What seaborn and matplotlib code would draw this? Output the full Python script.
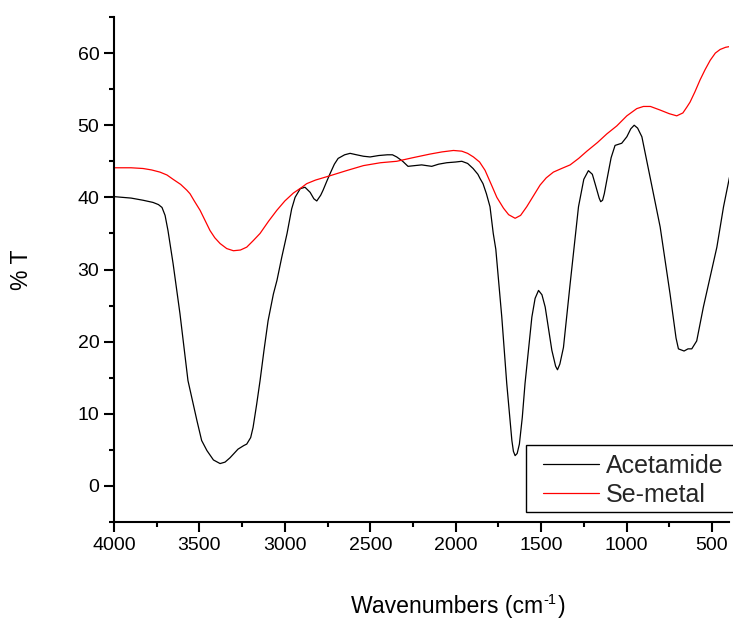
import numpy as np
import pandas as pd
import matplotlib
matplotlib.use("Agg")
import matplotlib.pyplot as plt
from matplotlib.patches import Rectangle
from matplotlib.ticker import MultipleLocator
import seaborn as sns

# FT-IR transmittance spectra (% T vs wavenumber, cm^-1)
acetamide_wn = [4000, 3900, 3830, 3772, 3740, 3719, 3701, 3684, 3654, 3614, 3567, 3514, 3487,
                3456, 3418, 3379, 3350, 3321, 3274, 3240, 3223, 3200, 3186, 3165, 3145, 3122,
                3098, 3067, 3046, 3018, 2987, 2960, 2940, 2910, 2882, 2852, 2830, 2813, 2790,
                2776, 2755, 2735, 2710, 2688, 2650, 2618, 2580, 2540, 2501, 2450, 2400, 2370,
                2345, 2310, 2279, 2240, 2199, 2170, 2140, 2100, 2052, 2000, 1964, 1930, 1898,
                1870, 1857, 1840, 1820, 1799, 1780, 1765, 1730, 1701, 1671, 1662, 1652, 1640,
                1627, 1610, 1594, 1554, 1535, 1515, 1495, 1476, 1437, 1415, 1404, 1390, 1369,
                1330, 1281, 1250, 1223, 1200, 1184, 1160, 1151, 1140, 1130, 1115, 1090, 1067,
                1028, 998, 975, 955, 935, 910, 862, 803, 745, 710, 696, 663, 640, 618, 589,
                550, 511, 471, 432, 397]
acetamide_t = [40.1, 39.9, 39.6, 39.3, 39.0, 38.6, 37.5, 35.4, 30.8, 23.9, 14.6, 9.0, 6.3,
               4.9, 3.6, 3.1, 3.3, 3.9, 5.1, 5.6, 5.8, 6.7, 8.1, 11.3, 14.6, 18.8,
               22.9, 26.6, 28.5, 31.7, 35.0, 38.4, 40.0, 41.2, 41.4, 40.7, 39.8, 39.5, 40.3,
               41.0, 42.2, 43.3, 44.6, 45.4, 45.9, 46.1, 45.9, 45.7, 45.6, 45.8, 45.9, 45.9,
               45.6, 45.0, 44.3, 44.4, 44.5, 44.4, 44.3, 44.6, 44.8, 44.9, 45.0, 44.7, 44.0,
               43.2, 42.6, 41.9, 40.5, 38.7, 35.0, 32.8, 23.4, 14.2, 6.3, 4.8, 4.2, 4.5,
               5.8, 9.5, 14.2, 23.4, 26.0, 27.1, 26.5, 24.8, 18.8, 16.6, 16.1, 16.9, 19.2,
               28.0, 38.7, 42.5, 43.7, 43.2, 41.9, 39.9, 39.4, 39.6, 40.5, 42.4, 45.5, 47.2,
               47.5, 48.4, 49.5, 50.0, 49.6, 48.4, 42.8, 35.9, 26.6, 20.5, 19.0, 18.7, 19.0, 19.0,
               20.1, 24.8, 28.9, 33.1, 38.7, 42.8]

se_metal_wn = [4000, 3900, 3830, 3780, 3731, 3690, 3654, 3610, 3574, 3555, 3530, 3496, 3467,
               3438, 3410, 3379, 3340, 3301, 3260, 3223, 3185, 3145, 3095, 3047, 3000, 2950,
               2900, 2872, 2820, 2735, 2640, 2540, 2440, 2345, 2250, 2150, 2080, 2013, 1964,
               1930, 1896, 1860, 1828, 1790, 1759, 1720, 1690, 1652, 1620, 1584, 1545, 1506,
               1470, 1428, 1380, 1330, 1280, 1232, 1170, 1115, 1057, 998, 940, 901, 860, 803,
               750, 706, 670, 647, 628, 600, 569, 540, 510, 480, 452, 420, 397]
se_metal_t = [44.1, 44.1, 44.0, 43.8, 43.5, 43.1, 42.5, 41.8, 41.0, 40.5, 39.5, 38.2, 36.8,
              35.4, 34.4, 33.6, 32.9, 32.6, 32.7, 33.1, 34.0, 35.0, 36.7, 38.2, 39.5, 40.6,
              41.4, 41.9, 42.4, 43.0, 43.7, 44.4, 44.8, 45.0, 45.5, 46.0, 46.3, 46.5, 46.4,
              46.1, 45.6, 44.9, 43.75, 41.7, 40.0, 38.5, 37.6, 37.1, 37.5, 38.7, 40.2, 41.7,
              42.7, 43.5, 44.0, 44.5, 45.4, 46.4, 47.6, 48.8, 49.9, 51.3, 52.3, 52.6, 52.6, 52.1,
              51.6, 51.3, 51.7, 52.5, 53.2, 54.6, 56.3, 57.7, 59.0, 60.0, 60.5, 60.8, 60.9]

series_names = ["Acetamide", "Se-metal"]
series_colors = ["black", "red"]

df = pd.concat([
    pd.DataFrame({"wavenumber": acetamide_wn, "T": acetamide_t, "sample": series_names[0]}),
    pd.DataFrame({"wavenumber": se_metal_wn, "T": se_metal_t, "sample": series_names[1]}),
], ignore_index=True)

sns.set_theme(style="ticks")
plt.rcParams["font.family"] = ["Liberation Sans", "DejaVu Sans"]

W, H = 733, 618
fig = plt.figure(figsize=(W / 100, H / 100), dpi=100)
ax = fig.add_axes([114 / W, 96 / H, 615 / W, 505 / H])

sns.lineplot(data=df, x="wavenumber", y="T", hue="sample", hue_order=series_names,
             palette=dict(zip(series_names, series_colors)), estimator=None, sort=False,
             linewidth=0.9, ax=ax, legend=False)
for line in ax.get_lines():
    line.set_solid_joinstyle("round")

ax.set_xticks([4000, 3500, 3000, 2500, 2000, 1500, 1000, 500])
ax.xaxis.set_minor_locator(MultipleLocator(250))
ax.yaxis.set_major_locator(MultipleLocator(10))
ax.yaxis.set_minor_locator(MultipleLocator(5))
ax.set_xlim(4000, 400)
ax.set_ylim(-5, 65)

for side in ("top", "right"):
    ax.spines[side].set_visible(False)
for side in ("left", "bottom"):
    ax.spines[side].set_linewidth(1.5)
    ax.spines[side].set_color("black")

ax.tick_params(which="major", direction="out", length=7, width=1.5, color="black",
               labelsize=14, labelcolor="black")
ax.tick_params(which="minor", direction="out", length=3.6, width=1.5, color="black")
ax.tick_params(axis="y", which="major", pad=3.5)
ax.tick_params(axis="x", which="major", pad=4)

ax.set_xlabel("")
ax.set_ylabel("")

# x-axis title with a plain-hyphen superscript
t1 = fig.text(351 / W, 1 - 613 / H, "Wavenumbers (cm", ha="left", va="baseline",
              fontsize=16.6, color="black")
t2 = ax.annotate("-1", xy=(1, 1), xycoords=t1, xytext=(0.5, 1.5), textcoords="offset points",
                 ha="left", va="top", fontsize=10.5, color="black", annotation_clip=False)
ax.annotate(")", xy=(1, 0), xycoords=(t2, t1), xytext=(0.4, 0), textcoords="offset points",
            ha="left", va="bottom", fontsize=16.6, color="black", annotation_clip=False)

fig.text(22 / W, 1 - 270 / H, "% T", ha="center", va="center", rotation=90,
         fontsize=16.6, color="black")

# legend box
ax.add_patch(Rectangle((526 / W, 1 - 512 / H), (734 - 526) / W, 67 / H,
                       transform=fig.transFigure, facecolor="white", edgecolor="black",
                       linewidth=1.0, clip_on=False, zorder=4))
handles = [plt.Line2D([], [], color=c, linewidth=0.9) for c in series_colors]
leg = ax.legend(handles, series_names, loc="upper left",
                bbox_to_anchor=(543 / W, 1 - 454 / H), bbox_transform=fig.transFigure,
                fontsize=18, frameon=False, handlelength=2.25, handletextpad=0.28,
                labelspacing=0.18, borderpad=0, borderaxespad=0)
leg.set_zorder(5)

fig.savefig("out.png", dpi=100)
